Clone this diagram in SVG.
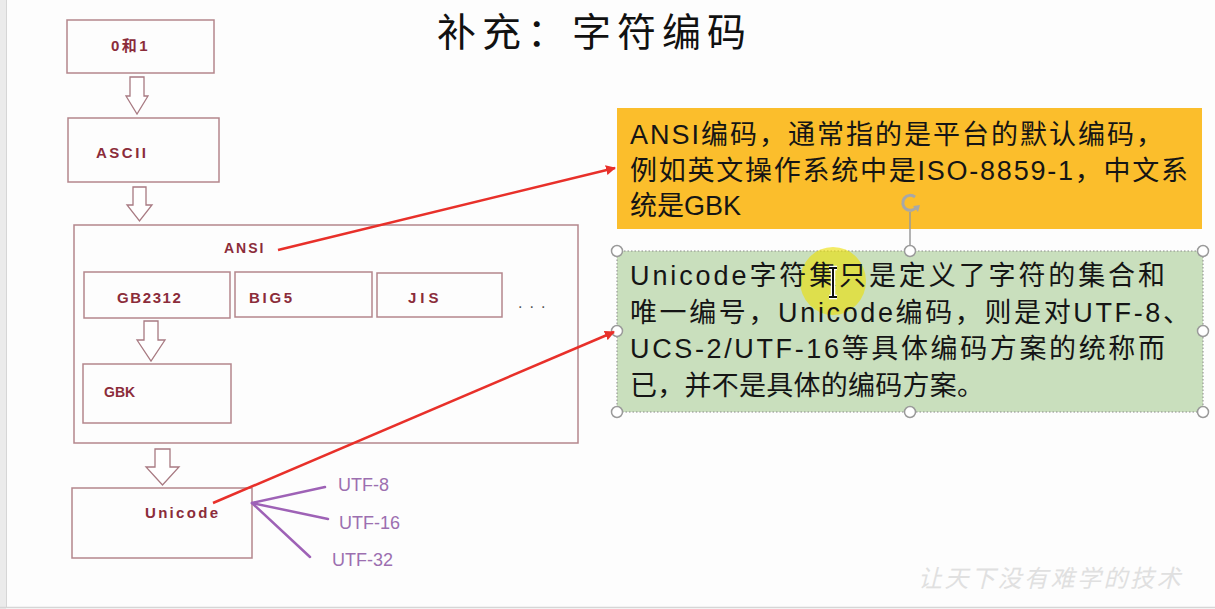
<svg xmlns="http://www.w3.org/2000/svg" width="1215" height="609" viewBox="0 0 1215 609">
<style>
.box{fill:none;stroke:#b4868c;stroke-width:1.5}
.lbl{font-family:"Liberation Sans","Noto Sans CJK SC",sans-serif;font-weight:bold;fill:#8b2c3a}
.harrow{fill:#fff;stroke:#a87a82;stroke-width:1.3}
.red{stroke:#e8302a;stroke-width:2.5;fill:none}
.pur{stroke:#9e62b6;stroke-width:2.5;stroke-linecap:round}
.utf{font-family:"Liberation Sans",sans-serif;font-size:18px;fill:#9c6fb0}
.note{font-family:"Liberation Sans","Noto Sans CJK SC",sans-serif;font-size:27px;fill:#151515}
.hdl{fill:#fff;stroke:#9a9a9a;stroke-width:1.5}
</style>
<defs>
<marker id="ah" viewBox="0 0 10 10" refX="9" refY="5" markerWidth="4" markerHeight="4" orient="auto" markerUnits="strokeWidth">
<path d="M0,0 L10,5 L0,10 Z" fill="#e8302a"/>
</marker>
</defs>
<rect x="0" y="0" width="1215" height="609" fill="#fdfdfd"/>
<rect x="0" y="0" width="6" height="609" fill="#ebebeb"/>
<line x1="6.5" y1="0" x2="6.5" y2="607" stroke="#d6d6d6" stroke-width="1"/>
<line x1="0" y1="607.5" x2="1215" y2="607.5" stroke="#d6d6d6" stroke-width="1.5"/>

<text id="title" x="437" y="46" font-family="Noto Sans CJK SC, sans-serif" font-size="39" letter-spacing="6" fill="#111">补充：字符编码</text>

<g id="n-01">
<rect class="box" x="67" y="20" width="147" height="53"/>
<text class="lbl" x="111" y="51" font-size="15" letter-spacing="2.5">0和1</text>
</g>
<g id="n-ascii">
<rect class="box" x="68" y="118" width="151" height="64"/>
<text class="lbl" x="96" y="158" font-size="15" letter-spacing="2.5">ASCII</text>
</g>
<g id="n-ansi">
<rect class="box" x="74" y="225" width="504" height="218"/>
<text class="lbl" x="224" y="253" font-size="14" letter-spacing="2">ANSI</text>
</g>
<g id="n-gb2312">
<rect class="box" x="84" y="272" width="146" height="46"/>
<text class="lbl" x="117" y="303" font-size="15" letter-spacing="1.6">GB2312</text>
</g>
<g id="n-big5">
<rect class="box" x="235" y="272" width="137" height="45"/>
<text class="lbl" x="249" y="303" font-size="15" letter-spacing="2.7">BIG5</text>
</g>
<g id="n-jis">
<rect class="box" x="377" y="273" width="125" height="44"/>
<text class="lbl" x="408" y="303" font-size="15" letter-spacing="4">JIS</text>
</g>
<g id="n-more">
<text x="518" y="308" font-family="Liberation Sans, sans-serif" font-size="16" letter-spacing="7" fill="#555">...</text>
</g>
<g id="n-gbk">
<rect class="box" x="83" y="364" width="148" height="59"/>
<text class="lbl" x="104" y="397" font-size="14">GBK</text>
</g>
<g id="n-unicode">
<rect class="box" x="72" y="488" width="180" height="70"/>
<text class="lbl" x="145" y="518" font-size="15" letter-spacing="2.3">Unicode</text>
</g>
<g id="n-utf8"><text class="utf" x="338" y="491">UTF-8</text></g>
<g id="n-utf16"><text class="utf" x="339" y="529">UTF-16</text></g>
<g id="n-utf32"><text class="utf" x="332" y="566">UTF-32</text></g>

<g id="n-ansi-note">
<rect x="617" y="108" width="585" height="121" fill="#fbbe2c"/>
<text class="note" x="630" y="144" textLength="533" lengthAdjust="spacing">ANSI编码，通常指的是平台的默认编码，</text>
<text class="note" x="630" y="180" textLength="558" lengthAdjust="spacing">例如英文操作系统中是ISO-8859-1，中文系</text>
<text class="note" x="630" y="215">统是GBK</text>
</g>

<g id="n-unicode-note">
<rect x="617" y="251" width="586" height="161" fill="#c9dfbd" stroke="#8a8a8a" stroke-width="1" stroke-dasharray="1.5 2"/>
<ellipse cx="833" cy="281" rx="33" ry="34" fill="#ece000" opacity="0.6"/>
<text class="note" x="630" y="285" textLength="535" lengthAdjust="spacing">Unicode字符集只是定义了字符的集合和</text>
<text class="note" x="630" y="322" textLength="560" lengthAdjust="spacing">唯一编号，Unicode编码，则是对UTF-8、</text>
<text class="note" x="630" y="358" textLength="535" lengthAdjust="spacing">UCS-2/UTF-16等具体编码方案的统称而</text>
<text class="note" x="630" y="395" textLength="354" lengthAdjust="spacing">已，并不是具体的编码方案。</text>
<path d="M829 268 H837 M833 268 V297 M829 297 H837" stroke="#fff" stroke-width="4.5" fill="none"/>
<path d="M829 268 H837 M833 268 V297 M829 297 H837" stroke="#111" stroke-width="2" fill="none"/>
<line x1="910" y1="212" x2="910" y2="251" stroke="#9a9a9a" stroke-width="1.5"/>
<path d="M916.5 207 A7.5 7.5 0 1 1 915 197" fill="none" stroke="#a8a8a8" stroke-width="3"/>
<path d="M913 206 L920 205 L918 212 Z" fill="#a8a8a8"/>
<circle class="hdl" cx="617" cy="251" r="5.5"/>
<circle class="hdl" cx="910" cy="251" r="5.5"/>
<circle class="hdl" cx="1203" cy="251" r="5.5"/>
<circle class="hdl" cx="617" cy="331" r="5.5"/>
<circle class="hdl" cx="1203" cy="331" r="5.5"/>
<circle class="hdl" cx="617" cy="412" r="5.5"/>
<circle class="hdl" cx="910" cy="412" r="5.5"/>
<circle class="hdl" cx="1203" cy="412" r="5.5"/>
</g>

<g id="connectors">
<path class="harrow" d="M130 77 H144 V96 H148 L137 114 L126 96 H130 Z"/>
<path class="harrow" d="M133 187 H146 V205 H152 L139.5 221 L127 205 H133 Z"/>
<path class="harrow" d="M144 321 H158 V340 H165 L151 361 L137 340 H144 Z"/>
<path class="harrow" d="M155 449 H170 V467 H179 L162.5 485 L146 467 H155 Z"/>
<line class="red" x1="278" y1="250" x2="615" y2="168" marker-end="url(#ah)"/>
<line class="red" x1="213" y1="503" x2="614" y2="332" marker-end="url(#ah)"/>
<line class="pur" x1="252" y1="503" x2="325" y2="487"/>
<line class="pur" x1="252" y1="503" x2="328" y2="519"/>
<line class="pur" x1="252" y1="503" x2="310" y2="557"/>
</g>

<g id="watermark">
<text x="918" y="587" font-family="Noto Sans CJK SC, sans-serif" font-size="24" letter-spacing="2.5" font-style="italic" fill="#e0e0e0">让天下没有难学的技术</text>
</g>
</svg>
